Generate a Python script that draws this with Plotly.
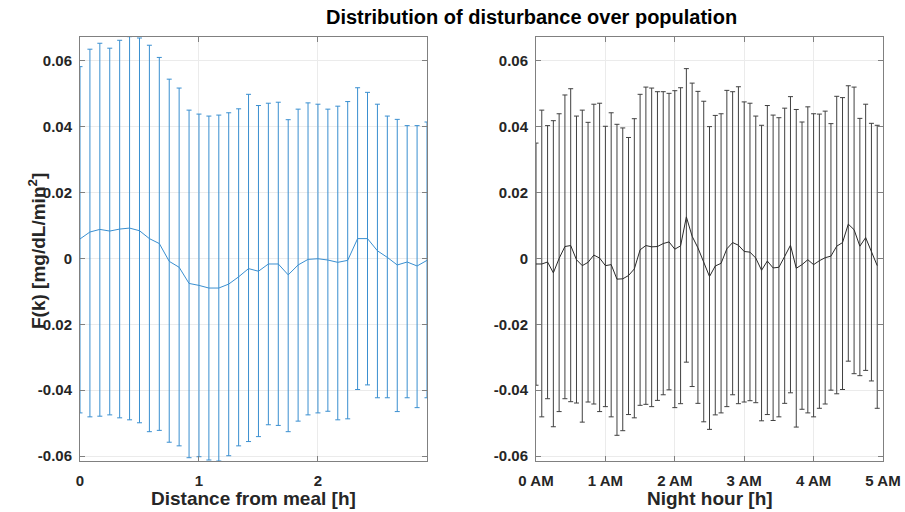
import plotly.graph_objects as go

# ---------------- data ----------------
meal_minutes = [0, 5, 10, 15, 20, 25, 30, 35, 40, 45, 50, 55, 60, 65, 70, 75, 80, 85,
                90, 95, 100, 105, 110, 115, 120, 125, 130, 135, 140, 145, 150, 155, 160, 165, 170, 175]
meal_mean = [0.0059, 0.0080, 0.0088, 0.0083, 0.0089, 0.0092, 0.0084, 0.0060, 0.0045, -0.0009,
             -0.0027, -0.0076, -0.0082, -0.0090, -0.0090, -0.0078, -0.0056, -0.0031, -0.0039, -0.0017,
             -0.0017, -0.0050, -0.0020, -0.0003, -0.0001, -0.0005, -0.0012, -0.0006, 0.0060, 0.0060,
             0.0023, 0.0003, -0.0020, -0.0011, -0.0023, -0.0006]
meal_upper = [0.0582, 0.0635, 0.0653, 0.0638, 0.0662, 0.0673, 0.0669, 0.0647, 0.0610, 0.0544,
              0.0517, 0.0450, 0.0438, 0.0432, 0.0435, 0.0442, 0.0454, 0.0498, 0.0464, 0.0471,
              0.0474, 0.0421, 0.0453, 0.0472, 0.0468, 0.0453, 0.0462, 0.0476, 0.0518, 0.0504,
              0.0468, 0.0432, 0.0422, 0.0403, 0.0403, 0.0414]
meal_lower = [-0.0469, -0.0481, -0.0479, -0.0475, -0.0484, -0.0490, -0.0499, -0.0526, -0.0522, -0.0558,
              -0.0569, -0.0605, -0.0602, -0.0612, -0.0615, -0.0599, -0.0569, -0.0556, -0.0541, -0.0505,
              -0.0507, -0.0526, -0.0494, -0.0475, -0.0469, -0.0464, -0.0490, -0.0487, -0.0398, -0.0384,
              -0.0423, -0.0423, -0.0465, -0.0423, -0.0453, -0.0423]

night_minutes = [0, 5, 10, 15, 20, 25, 30, 35, 40, 45, 50, 55, 60, 65, 70, 75, 80, 85, 90, 95,
                 100, 105, 110, 115, 120, 125, 130, 135, 140, 145, 150, 155, 160, 165, 170, 175, 180,
                 185, 190, 195, 200, 205, 210, 215, 220, 225, 230, 235, 240, 245, 250, 255, 260, 265,
                 270, 275, 280, 285, 290, 295]
night_mean = [-0.0017, -0.0017, -0.0011, -0.0044, 0.0000, 0.0036, 0.0039, -0.0004, -0.0022, -0.0012,
              0.0010, 0.0001, -0.0022, -0.0019, -0.0063, -0.0062, -0.0052, -0.0032, 0.0026, 0.0039,
              0.0035, 0.0036, 0.0045, 0.0050, 0.0028, 0.0038, 0.0126, 0.0067, 0.0032, -0.0014,
              -0.0055, -0.0023, -0.0015, 0.0029, 0.0048, 0.0040, 0.0021, 0.0019, 0.0001, -0.0036,
              -0.0008, -0.0029, -0.0027, 0.0006, 0.0040, -0.0030, -0.0019, -0.0004, -0.0019, -0.0007,
              0.0002, 0.0007, 0.0037, 0.0048, 0.0104, 0.0087, 0.0037, 0.0063, 0.0023, -0.0022]
night_upper = [0.0350, 0.0450, 0.0403, 0.0418, 0.0439, 0.0496, 0.0515, 0.0432, 0.0450, 0.0413,
               0.0468, 0.0471, 0.0401, 0.0442, 0.0407, 0.0396, 0.0367, 0.0424, 0.0498, 0.0520,
               0.0517, 0.0506, 0.0506, 0.0501, 0.0509, 0.0518, 0.0576, 0.0532, 0.0507, 0.0477,
               0.0400, 0.0434, 0.0439, 0.0510, 0.0506, 0.0521, 0.0475, 0.0471, 0.0432, 0.0404,
               0.0464, 0.0435, 0.0427, 0.0456, 0.0491, 0.0452, 0.0414, 0.0460, 0.0439, 0.0438,
               0.0447, 0.0409, 0.0492, 0.0488, 0.0524, 0.0520, 0.0425, 0.0468, 0.0410, 0.0404]
night_lower = [-0.0385, -0.0481, -0.0426, -0.0511, -0.0465, -0.0426, -0.0435, -0.0439, -0.0497, -0.0436,
               -0.0442, -0.0465, -0.0450, -0.0481, -0.0537, -0.0523, -0.0474, -0.0484, -0.0446, -0.0443,
               -0.0450, -0.0431, -0.0414, -0.0399, -0.0453, -0.0441, -0.0315, -0.0389, -0.0440, -0.0496,
               -0.0519, -0.0475, -0.0469, -0.0450, -0.0414, -0.0441, -0.0436, -0.0432, -0.0438, -0.0493,
               -0.0474, -0.0492, -0.0481, -0.0440, -0.0408, -0.0512, -0.0458, -0.0469, -0.0481, -0.0455,
               -0.0442, -0.0400, -0.0411, -0.0398, -0.0312, -0.0350, -0.0356, -0.0340, -0.0372, -0.0455]

y_tickvals = [-0.06, -0.04, -0.02, 0, 0.02, 0.04, 0.06]
y_ticktext = ["-0.06", "-0.04", "-0.02", "0", "0.02", "0.04", "0.06"]
left_tickvals = [0, 1, 2]
left_ticktext = ["0", "1", "2"]
right_tickvals = [0, 1, 2, 3, 4, 5]
right_ticktext = ["0 AM", "1 AM", "2 AM", "3 AM", "4 AM", "5 AM"]

title_text = "Distribution of disturbance over population"
ylabel_text = "F(k) [mg/dL/min<sup>2</sup>]"
xlabel_left = "Distance from meal [h]"
xlabel_right = "Night hour [h]"

# ---------------- figure ----------------
W, H = 905, 512
BLUE = "#3a8fd0"
DARK = "#404040"
FONT = "Liberation Sans, Arial, sans-serif"

meal_x = [m / 60 for m in meal_minutes]
night_x = [m / 60 for m in night_minutes]

fig = go.Figure()

fig.add_trace(go.Scatter(
    x=meal_x, y=meal_mean, mode="lines",
    line=dict(color=BLUE, width=1),
    error_y=dict(type="data", symmetric=False,
                 array=[u - m for u, m in zip(meal_upper, meal_mean)],
                 arrayminus=[m - l for m, l in zip(meal_mean, meal_lower)],
                 color=BLUE, thickness=1, width=2.5),
    xaxis="x", yaxis="y", showlegend=False, cliponaxis=True))

fig.add_trace(go.Scatter(
    x=night_x, y=night_mean, mode="lines",
    line=dict(color="#2a2a2a", width=1),
    error_y=dict(type="data", symmetric=False,
                 array=[u - m for u, m in zip(night_upper, night_mean)],
                 arrayminus=[m - l for m, l in zip(night_mean, night_lower)],
                 color=DARK, thickness=1, width=2.5),
    xaxis="x2", yaxis="y2", showlegend=False, cliponaxis=True))

YR = [-0.0615, 0.0672]
tickfont = dict(family=FONT, size=15, color="#262626", weight="bold")
common_axis = dict(showline=True, linecolor="#808080", linewidth=1, mirror="ticks",
                   ticks="inside", ticklen=5, tickcolor="#808080", automargin=False,
                   showgrid=True, gridcolor="#ebebeb", gridwidth=1, zeroline=False,
                   tickfont=tickfont)


def px(xs):
    return xs / W


def py(ys):
    return (H - ys) / H


fig.update_layout(
    template="none",
    width=W, height=H,
    margin=dict(l=0, r=0, t=0, b=0, autoexpand=False),
    paper_bgcolor="white", plot_bgcolor="white",
    xaxis=dict(domain=[px(80), px(427)], range=[0, 175 / 60], tickvals=left_tickvals,
               ticktext=left_ticktext, anchor="y", ticklabelstandoff=6, **common_axis),
    yaxis=dict(domain=[py(461), py(37)], range=YR, tickvals=y_tickvals, ticktext=y_ticktext,
               anchor="x", ticklabelstandoff=4, **common_axis),
    xaxis2=dict(domain=[px(536), px(883)], range=[0, 5], tickvals=right_tickvals,
                ticktext=right_ticktext, anchor="y2", ticklabelstandoff=6, **common_axis),
    yaxis2=dict(domain=[py(461), py(37)], range=YR, tickvals=y_tickvals, ticktext=y_ticktext,
                anchor="x2", ticklabelstandoff=4, **common_axis),
    annotations=[
        dict(text="<b>" + title_text + "</b>", x=px(531), y=py(17), xref="paper", yref="paper",
             xanchor="center", yanchor="middle", showarrow=False,
             font=dict(family=FONT, size=20, color="#000000")),
        dict(text="<b>" + ylabel_text + "</b>", x=px(37), y=py(251), xref="paper", yref="paper",
             xanchor="center", yanchor="middle", showarrow=False, textangle=-90,
             font=dict(family=FONT, size=19, color="#262626")),
        dict(text="<b>" + xlabel_left + "</b>", x=px(253.5), y=py(498), xref="paper", yref="paper",
             xanchor="center", yanchor="middle", showarrow=False,
             font=dict(family=FONT, size=19, color="#262626")),
        dict(text="<b>" + xlabel_right + "</b>", x=px(709.5), y=py(498), xref="paper", yref="paper",
             xanchor="center", yanchor="middle", showarrow=False,
             font=dict(family=FONT, size=19, color="#262626")),
    ],
)

fig.write_html(
    "out.html",
    config={"displayModeBar": False},
    post_script="document.body.style.margin='0px';document.body.style.overflow='hidden';"
                "document.documentElement.style.overflow='hidden';",
)
